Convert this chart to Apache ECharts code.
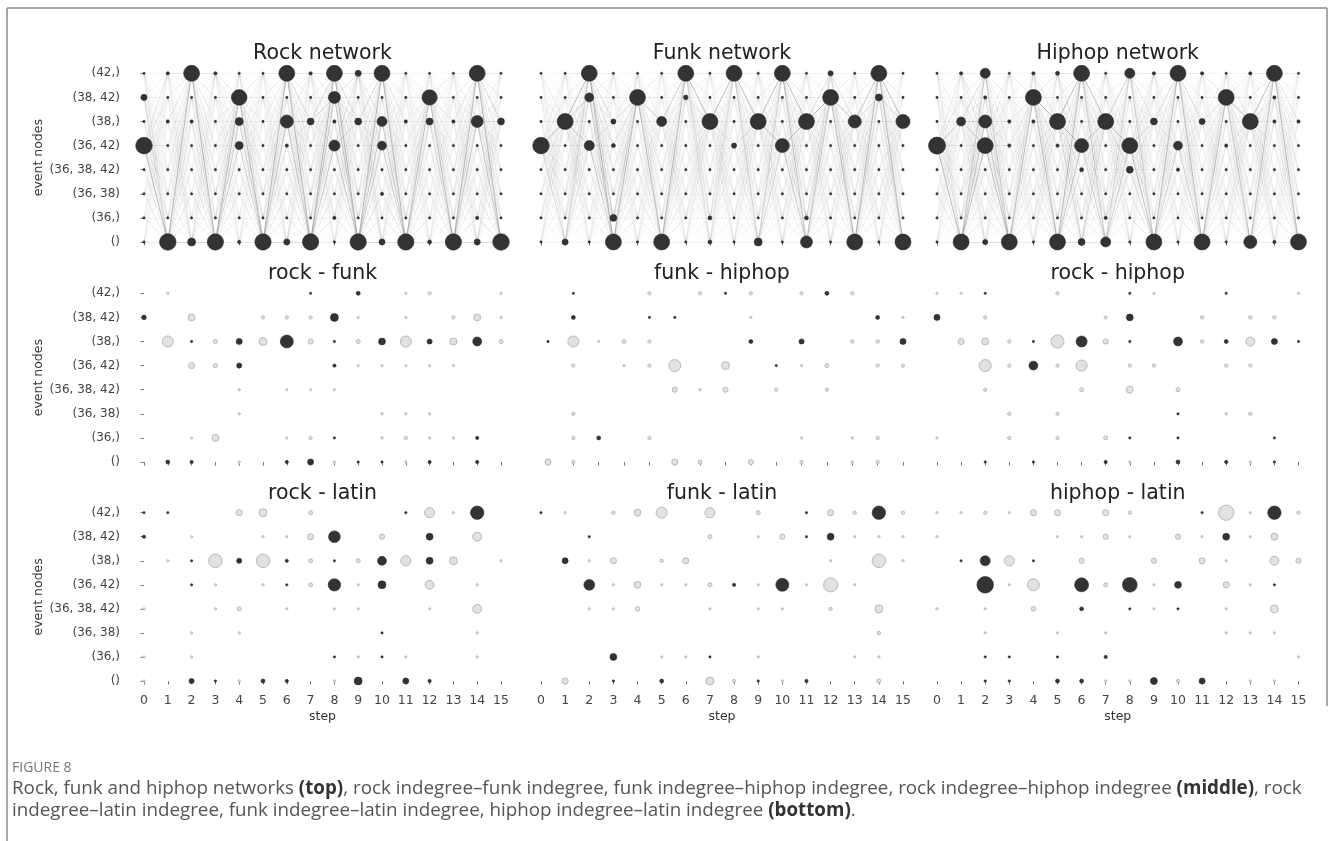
<!DOCTYPE html>
<html>
<head>
<meta charset="utf-8">
<title>Event node networks and indegree differences</title>
<script src="https://cdn.jsdelivr.net/npm/echarts@6/dist/echarts.min.js"></script>
<style>
  html, body { margin: 0; padding: 0; background: #ffffff; }
  #chart { width: 1333px; height: 841px; }
</style>
</head>
<body>
<div id="chart"></div>
<script>
// ---- categories ------------------------------------------------------------
const steps = [0, 1, 2, 3, 4, 5, 6, 7, 8, 9, 10, 11, 12, 13, 14, 15];
// event nodes, listed from the top row of each panel down to the bottom row
const eventNodes = ['(42,)', '(38, 42)', '(38,)', '(36, 42)', '(36, 38, 42)', '(36, 38)', '(36,)', '()'];

// ---- network indegree per node (rows follow eventNodes, columns follow steps)
const rockNetwork = [
  [1, 2, 48, 2, 1, 1, 48, 2, 48, 7, 48, 1, 1, 1, 48, 1],
  [7, 1, 1, 1, 46, 1, 1, 1, 27, 1, 1, 1, 44, 1, 1, 1],
  [1, 2, 2, 1, 12, 1, 32, 9, 2, 9, 19, 2, 9, 2, 27, 9],
  [52, 1, 1, 1, 12, 1, 2, 1, 23, 1, 15, 1, 1, 1, 1, 1],
  [1, 1, 1, 1, 1, 1, 1, 1, 1, 1, 1, 1, 1, 1, 1, 1],
  [1, 1, 1, 1, 1, 1, 1, 1, 1, 1, 2, 1, 1, 1, 1, 1],
  [1, 1, 1, 1, 1, 1, 1, 1, 2, 1, 1, 1, 1, 1, 2, 1],
  [1, 52, 12, 50, 2, 50, 7, 50, 1, 50, 7, 50, 3, 50, 7, 52]
];
const funkNetwork = [
  [1, 1, 48, 1, 1, 1, 48, 1, 48, 1, 48, 1, 5, 1, 48, 1],
  [1, 1, 15, 1, 48, 1, 4, 1, 1, 1, 1, 1, 48, 1, 9, 1],
  [1, 48, 1, 5, 1, 19, 1, 48, 1, 48, 1, 48, 1, 32, 1, 37],
  [52, 1, 19, 3, 1, 1, 1, 1, 5, 1, 37, 1, 1, 1, 1, 1],
  [1, 1, 1, 1, 1, 1, 1, 1, 1, 1, 1, 1, 1, 1, 1, 1],
  [1, 1, 1, 1, 1, 1, 1, 1, 1, 1, 1, 1, 1, 1, 1, 1],
  [1, 1, 1, 9, 1, 1, 1, 3, 1, 1, 1, 3, 1, 1, 1, 1],
  [1, 7, 1, 48, 1, 48, 1, 3, 1, 12, 1, 27, 1, 48, 1, 48]
];
const hiphopNetwork = [
  [1, 2, 19, 1, 2, 3, 48, 1, 19, 2, 48, 2, 1, 2, 48, 1],
  [1, 1, 2, 1, 48, 1, 1, 1, 1, 1, 1, 1, 48, 1, 2, 1],
  [1, 15, 32, 2, 2, 48, 1, 48, 1, 9, 1, 7, 1, 48, 2, 2],
  [55, 1, 48, 2, 1, 2, 37, 1, 48, 1, 15, 1, 2, 1, 1, 1],
  [1, 1, 1, 1, 1, 1, 3, 1, 9, 1, 2, 1, 1, 1, 1, 1],
  [1, 1, 1, 1, 1, 1, 1, 1, 1, 1, 1, 1, 1, 1, 1, 1],
  [1, 1, 1, 1, 1, 1, 1, 2, 1, 1, 1, 1, 1, 1, 1, 1],
  [1, 48, 5, 48, 1, 48, 9, 19, 1, 48, 1, 48, 1, 32, 2, 48]
];

// ---- indegree differences (positive: first genre higher, negative: second higher, 0: none)
const rockFunk = [
  [0, -1, 0, 0, 0, 0, 0, 1, 0, 3, 0, -1, -2, 0, 0, -1],
  [4, 0, -9, 0, 0, -2, -2, -2, 12, -1, 0, -1, 0, -2, -9, -1],
  [0, -23, 1, -3, 7, -12, 32, -5, 1, -3, 9, -23, 5, -9, 15, -3],
  [0, 0, -7, -3, 5, 0, 0, 0, 2, -1, -1, -1, -1, -1, 0, 0],
  [0, 0, 0, 0, -1, 0, -1, -1, -1, 0, 0, 0, 0, 0, 0, 0],
  [0, 0, 0, 0, -1, 0, 0, 0, 0, 0, -1, -1, -1, 0, 0, 0],
  [0, 0, -1, -9, 0, 0, -1, -2, 1, 0, -1, -2, -1, -1, 2, 0],
  [0, 3, 2, 0, -1, 0, 2, 7, -1, 1, 1, -1, 2, 0, 2, 0]
];
const funkHiphop = [
  [0, 0, 1, 0, 0, -2, 0, -2, 1, -2, 0, -2, 3, -2, 0, 0],
  [0, 0, 3, 0, 0, 1, 1, 0, 0, -1, 0, 0, 0, 0, 3, -1],
  [0, 1, -23, -1, -3, -2, 0, 0, 0, 3, 0, 5, 0, -2, -2, 7],
  [0, 0, -2, 0, -1, -2, -27, 0, -12, 0, 1, -1, -3, 0, -2, -2],
  [0, 0, 0, 0, 0, 0, -5, -1, -5, 0, -2, 0, -2, 0, 0, 0],
  [0, 0, -2, 0, 0, 0, 0, 0, 0, 0, 0, 0, 0, 0, 0, 0],
  [0, 0, -2, 3, 0, -2, 0, 0, 0, 0, 0, -1, 0, -1, -2, 0],
  [0, -7, -2, 0, 0, 0, -7, -3, 0, -5, 0, -2, 0, -1, -2, 0]
];
const rockHiphop = [
  [-1, -1, 1, 0, 0, -2, 0, 0, 1, -1, 0, 0, 1, 0, 0, -1],
  [7, 0, -2, 0, 0, 0, 0, -2, 9, 0, 0, -2, 0, -2, -2, 0],
  [0, -7, -9, -2, 1, -32, 23, -5, 1, 0, 15, -2, 3, -15, 7, 1],
  [0, 0, -27, -2, 15, -2, -23, 0, -2, -2, 0, 0, -2, -2, 0, 0],
  [0, 0, -2, 0, 0, 0, -3, 0, -9, 0, -3, 0, 0, 0, 0, 0],
  [0, 0, 0, -2, 0, -2, 0, 0, 0, 0, 1, 0, -1, -2, 0, 0],
  [-1, 0, 0, -2, 0, -2, 0, -3, 1, 0, 1, 0, 0, 0, 1, 0],
  [0, 0, 1, 0, 1, 0, 0, 2, -1, 0, 3, 0, 2, -1, 1, 0]
];
const rockLatin = [
  [1, 1, 0, 0, -7, -12, 0, -3, 0, 0, 0, 1, -19, -1, 34, 0],
  [2, 0, -1, 0, 0, -1, -1, -7, 26, 0, -5, 0, 9, 0, -15, 0],
  [0, -1, 1, -34, 5, -34, 2, -3, 1, -3, 15, -19, 9, -12, 0, -1],
  [0, 0, 1, -1, 0, -1, 1, -3, 29, -1, 12, 0, -15, 0, -1, 0],
  [-1, 0, 0, -1, -3, 0, -1, 0, -1, -1, 0, 0, -1, 0, -15, 0],
  [0, 0, -1, 0, -1, 0, 0, 0, 0, 0, 1, 0, 0, 0, -1, 0],
  [-1, 0, -1, 0, 0, 0, 0, 0, 1, -1, 1, -1, 0, 0, -1, 0],
  [-1, 0, 5, 1, -1, 3, 2, 0, -1, 12, 0, 7, 2, 0, 0, 0]
];
const funkLatin = [
  [1, -1, 0, -2, -9, -23, 0, -19, 0, -3, 0, 1, -7, -2, 34, -2],
  [0, 0, 1, 0, 0, 0, 0, -3, 0, -1, -5, 1, 9, -1, -1, -1],
  [0, 7, -1, -7, 0, -2, -7, 0, 0, 0, 0, 0, -1, 0, -34, -1],
  [0, 0, 22, -1, -9, -1, -1, -3, 2, -1, 32, -1, -37, -1, 0, 0],
  [0, 0, -1, -1, -4, 0, 0, -1, 0, -1, -1, 0, -2, 0, -12, 0],
  [0, 0, 0, 0, 0, 0, 0, 0, 0, 0, 0, 0, 0, 0, -2, 0],
  [0, 0, 0, 9, 0, -1, -1, 1, 0, -1, 0, 0, 0, -1, -1, 0],
  [0, -7, 0, 1, 0, 3, 0, -12, -2, 1, -1, 2, 0, 0, -3, 0]
];
const hiphopLatin = [
  [-1, -1, -2, -1, -7, -7, 0, -7, -2, 0, 0, 1, -44, -1, 34, -2],
  [-1, 0, 0, 0, 0, -1, -1, -5, -1, 0, -5, -1, 9, -1, -9, 0],
  [0, 1, 19, -19, 1, 0, -5, 0, 0, -5, 0, -7, -1, 0, -15, -5],
  [0, 0, 52, -1, -27, 0, 37, -3, 41, -1, 9, 0, -7, -1, 1, 0],
  [-1, 0, -1, 0, -4, 0, 3, 0, 1, -1, 1, 0, -1, 0, -12, 0],
  [0, 0, -1, 0, 0, -1, 0, -1, 0, 0, 0, 0, -1, -1, -1, 0],
  [0, 0, 1, 1, 0, 1, 0, 2, 0, 0, 0, 0, 0, 0, 0, -1],
  [0, 0, 1, 1, 0, 3, 3, -1, -1, 9, -2, 7, 0, -1, -1, 0]
];

const panels = [
  { title: 'Rock network', kind: 'net', values: rockNetwork },
  { title: 'Funk network', kind: 'net', values: funkNetwork },
  { title: 'Hiphop network', kind: 'net', values: hiphopNetwork },
  { title: 'rock - funk', kind: 'diff', values: rockFunk },
  { title: 'funk - hiphop', kind: 'diff', values: funkHiphop },
  { title: 'rock - hiphop', kind: 'diff', values: rockHiphop },
  { title: 'rock - latin', kind: 'diff', values: rockLatin },
  { title: 'funk - latin', kind: 'diff', values: funkLatin },
  { title: 'hiphop - latin', kind: 'diff', values: hiphopLatin }
];

// ---- layout: pixel x of the first / last plotted step per column,
//      pixel y of the top / bottom event row per row of panels
const colX = [[144, 501], [541, 903], [937, 1298.5]];
const shrunkColX = [[0, 0], [548, 903], [0, 0]];   // used when a panel starts after step 0
const rowY = [[73.3, 242], [293.3, 462], [512.7, 681]];
const PAD_X = 16, PAD_Y = 8;
const DOT = 2.3;          // marker diameter per sqrt(indegree)
const FONT = '"DejaVu Sans", Verdana, sans-serif';
const nRows = eventNodes.length;
const rowValues = eventNodes.map((_, i) => i);

const grids = [], xAxes = [], yAxes = [], series = [], graphics = [];

function points(values, keep) {
  const out = [];
  values.forEach((row, i) => row.forEach((v, t) => {
    if (v !== 0 && keep(v)) out.push([steps[t], nRows - 1 - i, v]);
  }));
  return out;
}

// steps that carry at least one mark in a panel
function usedSteps(values) {
  return steps.filter((s, t) => values.some(row => row[t] !== 0));
}

// transitions between consecutive steps, shaded by the indegrees at both ends
function transitions(values) {
  let vmax = 0;
  values.forEach(r => r.forEach(v => { vmax = Math.max(vmax, v); }));
  const out = [];
  for (let t = 0; t < steps.length - 1; t++) {
    for (let i = 0; i < nRows; i++) {
      for (let j = 0; j < nRows; j++) {
        const a = values[i][t], b = values[j][t + 1];
        const w = Math.pow((a * b) / (vmax * vmax), 0.35);
        out.push({
          coords: [[steps[t], nRows - 1 - i], [steps[t + 1], nRows - 1 - j]],
          lineStyle: { opacity: 0.035 + 0.6 * w }
        });
      }
    }
  }
  return out;
}

const sizeOf = val => DOT * Math.sqrt(Math.abs(val[2]));

panels.forEach((p, k) => {
  const r = Math.floor(k / 3), c = k % 3;
  const shown = usedSteps(p.values);
  const first = shown[0], last = shown[shown.length - 1];
  const [xa, xb] = first === 0 ? colX[c] : shrunkColX[c];
  const ticks = steps.filter(s => s >= first && s <= last);
  const [yT, yB] = rowY[r];
  const sx = (xb - xa) / (last - first);
  const sy = (yB - yT) / 7;
  grids.push({
    left: xa - PAD_X, top: yT - PAD_Y,
    width: xb - xa + 2 * PAD_X, height: yB - yT + 2 * PAD_Y,
    containLabel: false
  });
  xAxes.push({
    gridIndex: k, type: 'value',
    min: first - PAD_X / sx, max: last + PAD_X / sx,
    axisLine: { show: false }, splitLine: { show: false },
    axisTick: { show: true, length: 3.5, customValues: ticks, lineStyle: { color: '#777', width: 1 } },
    axisLabel: { show: r === 2, customValues: ticks, margin: 5, fontSize: 12.5, color: '#444', fontFamily: FONT },
    name: r === 2 ? 'step' : '', nameLocation: 'middle', nameGap: 21,
    nameTextStyle: { fontSize: 12.5, color: '#333', fontFamily: FONT }
  });
  yAxes.push({
    gridIndex: k, type: 'value',
    min: -PAD_Y / sy, max: nRows - 1 + PAD_Y / sy,
    axisLine: { show: false }, splitLine: { show: false },
    axisTick: { show: c === 0, length: 3.5, customValues: rowValues, lineStyle: { color: '#777', width: 1 } },
    axisLabel: {
      show: c === 0, customValues: rowValues, margin: 8, fontSize: 12, color: '#444', fontFamily: FONT,
      formatter: v => eventNodes[nRows - 1 - Math.round(v)]
    },
    name: c === 0 ? 'event nodes' : '', nameLocation: 'middle', nameGap: 82,
    nameTextStyle: { fontSize: 12.5, color: '#333', fontFamily: FONT }
  });
  graphics.push({
    type: 'text', x: (colX[c][0] + colX[c][1]) / 2, y: yT - 19.5, silent: true,
    style: { text: p.title, fill: '#222', fontSize: 20.5, fontFamily: FONT, align: 'center', verticalAlign: 'middle' }
  });

  if (p.kind === 'net') {
    series.push({
      type: 'lines', coordinateSystem: 'cartesian2d', xAxisIndex: k, yAxisIndex: k,
      silent: true, z: 1, data: transitions(p.values),
      lineStyle: { color: '#767676', width: 0.8, curveness: 0 }
    });
    series.push({
      type: 'scatter', xAxisIndex: k, yAxisIndex: k, z: 3, clip: false, silent: true,
      data: points(p.values, () => true), symbolSize: sizeOf,
      itemStyle: { color: '#333333', borderColor: '#262626', borderWidth: 0.6, opacity: 1 }
    });
  } else {
    series.push({
      type: 'scatter', xAxisIndex: k, yAxisIndex: k, z: 3, clip: false, silent: true,
      data: points(p.values, v => v < 0), symbolSize: sizeOf,
      itemStyle: { color: '#e2e2e2', borderColor: '#b9b9b9', borderWidth: 1, opacity: 1 }
    });
    series.push({
      type: 'scatter', xAxisIndex: k, yAxisIndex: k, z: 4, clip: false, silent: true,
      data: points(p.values, v => v > 0), symbolSize: sizeOf,
      itemStyle: { color: '#333333', borderColor: '#262626', borderWidth: 0.6, opacity: 1 }
    });
  }
});

// ---- figure frame and caption
const frame = { stroke: '#8c8c8c', lineWidth: 1.5 };
graphics.push(
  { type: 'line', silent: true, shape: { x1: 7, y1: 8, x2: 1327, y2: 8 }, style: frame },
  { type: 'line', silent: true, shape: { x1: 7, y1: 8, x2: 7, y2: 841 }, style: frame },
  { type: 'line', silent: true, shape: { x1: 1327, y1: 8, x2: 1327, y2: 706 }, style: frame }
);
const CAP = '"Open Sans", "Noto Sans", sans-serif';
graphics.push({
  type: 'text', x: 12, y: 768, silent: true,
  style: { text: 'FIGURE 8', fill: '#777', fontSize: 14, fontFamily: CAP, verticalAlign: 'middle' }
});
const capRich = {
  n: { fontSize: 18.8, fontFamily: CAP, fill: '#555', lineHeight: 22 },
  b: { fontSize: 18.8, fontFamily: CAP, fill: '#333', fontWeight: 'bold', lineHeight: 22 }
};
graphics.push({
  type: 'text', x: 12, y: 778, silent: true,
  style: {
    text: '{n|Rock, funk and hiphop networks }{b|(top)}{n|, rock indegree\u2013funk indegree, funk indegree\u2013hiphop indegree, rock indegree\u2013hiphop indegree }{b|(middle)}{n|, rock}\n' +
          '{n|indegree\u2013latin indegree, funk indegree\u2013latin indegree, hiphop indegree\u2013latin indegree }{b|(bottom)}{n|.}',
    rich: capRich
  }
});

const chart = echarts.init(document.getElementById('chart'), null, { renderer: 'canvas' });
chart.setOption({
  animation: false,
  backgroundColor: '#ffffff',
  grid: grids,
  xAxis: xAxes,
  yAxis: yAxes,
  series: series,
  graphic: graphics
});
</script>
</body>
</html>
